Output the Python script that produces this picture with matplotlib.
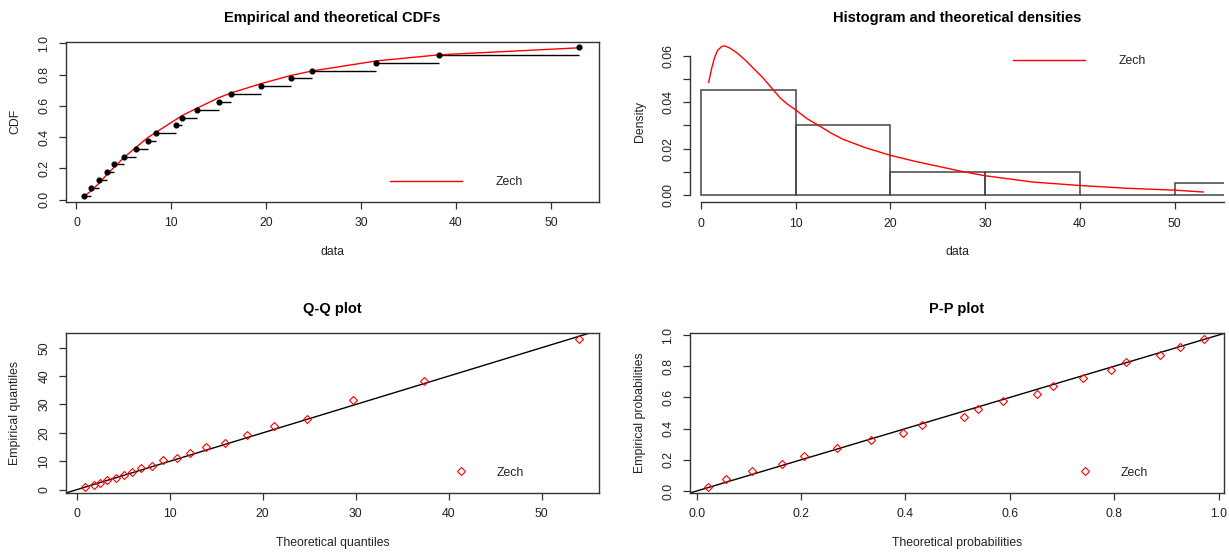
"""Goodness-of-fit panels (CDF, density, Q-Q, P-P) for a Zech fit."""

import matplotlib
matplotlib.use("Agg")
import matplotlib.pyplot as plt
from matplotlib.lines import Line2D

plt.rcParams["font.family"] = ["Liberation Sans", "DejaVu Sans"]

# -- values --
data_sorted = [0.82, 1.55, 2.4, 3.25, 3.95, 5.0, 6.27, 7.5, 8.4, 10.5,
               11.15, 12.75, 15.0, 16.3, 19.4, 22.6, 24.85, 31.6, 38.2, 53.0]
emp_prob = [0.025, 0.075, 0.125, 0.175, 0.225, 0.275, 0.325, 0.375, 0.425, 0.475,
            0.525, 0.575, 0.625, 0.675, 0.725, 0.775, 0.825, 0.875, 0.925, 0.975]
theo_prob = [0.022, 0.056, 0.106, 0.163, 0.206, 0.269, 0.334, 0.396, 0.431, 0.513,
             0.538, 0.586, 0.652, 0.682, 0.741, 0.794, 0.823, 0.887, 0.926, 0.971]
theo_quant = [0.85, 1.83, 2.55, 3.3, 4.25, 5.14, 5.99, 6.96, 8.1, 9.3,
              10.74, 12.2, 13.95, 15.9, 18.3, 21.2, 24.8, 29.7, 37.4, 54.0]
dens_x = [0.84, 1.16, 1.44, 1.75, 2.2, 2.55, 3.1, 3.8, 4.7, 5.5, 6.6, 7.5, 8.4, 9.2,
          10, 11.2, 12.5, 13.7, 15, 17.5, 20, 22.5, 25, 27.5, 30, 35, 40, 45, 50, 53]
dens_y = [0.0485, 0.0546, 0.0589, 0.0621, 0.0639, 0.0642, 0.0632, 0.0613, 0.0581,
          0.0548, 0.0503, 0.0460, 0.0417, 0.0390, 0.0367, 0.0329, 0.0298, 0.0268,
          0.0240, 0.0202, 0.0171, 0.0146, 0.0124, 0.0102, 0.0083, 0.0056, 0.0041,
          0.0029, 0.0021, 0.0013]
hist_breaks = [0, 10, 20, 30, 40, 50, 60]
dist_name = "Zech"

W, H = 1229, 555
INK = "#222222"
FS = 8.8


def panel(left, top, right, bottom):
    return fig.add_axes([left / W, 1 - bottom / H, (right - left) / W, (bottom - top) / H])


def style(ax, title, xlabel, ylabel, xl_y, yl_x, box=True):
    ax.set_title(title, fontsize=10.5, fontweight="bold", pad=14, color="black")
    ax.set_xlabel(xlabel, fontsize=FS, color=INK)
    ax.set_ylabel(ylabel, fontsize=FS, color=INK)
    ax.xaxis.set_label_coords(0.5, xl_y)
    ax.yaxis.set_label_coords(yl_x, 0.5)
    for lab in (ax.xaxis.label, ax.yaxis.label):
        lab.set_ha("center")
        lab.set_va("center")
    ax.tick_params(direction="out", length=4.7, width=0.9, color="#333333",
                   labelsize=FS, labelcolor=INK, pad=6.5)
    ax.tick_params(axis="y", labelrotation=90)
    for t in ax.get_yticklabels():
        t.set_va("center")
    for s in ax.spines.values():
        s.set_color("#333333")
        s.set_linewidth(1.0)
    if not box:
        ax.spines["top"].set_visible(False)
        ax.spines["right"].set_visible(False)


def add_legend(ax, handle, x, y, hlen, tpad):
    ax.legend([handle], [dist_name], loc="center left", bbox_to_anchor=(x, y),
              frameon=False, borderpad=0, borderaxespad=0, handlelength=hlen,
              handletextpad=tpad, fontsize=FS, labelcolor=INK)


fig = plt.figure(figsize=(W / 100, H / 100), dpi=100)

# -- Empirical and theoretical CDFs --
ax1 = panel(66, 41.7, 599, 201.5)
ax1.hlines(emp_prob[:-1], data_sorted[:-1], data_sorted[1:], color="black", lw=1)
ax1.plot(data_sorted, theo_prob, color="red", lw=1)
ax1.plot(data_sorted, emp_prob, "o", color="black", ms=3.4)
ax1.set_xlim(-1.1, 55.07)
ax1.set_ylim(-0.012, 1.01)
ax1.set_xticks([0, 10, 20, 30, 40, 50])
ax1.set_yticks([0, 0.2, 0.4, 0.6, 0.8, 1.0])
ax1.set_yticklabels(["0.0", "0.2", "0.4", "0.6", "0.8", "1.0"])
style(ax1, "Empirical and theoretical CDFs", "data", "CDF", -0.316, -0.0957)
add_legend(ax1, Line2D([], [], color="red", lw=1), 0.608, 0.12, 5.9, 2.75)

# -- Histogram and theoretical densities --
ax2 = panel(690, 41.7, 1224, 202)
ax2.hist(data_sorted, bins=hist_breaks, density=True, fill=False,
         edgecolor="#444444", lw=1.1)
ax2.plot(dens_x, dens_y, color="red", lw=1)
ax2.set_xlim(-1.13, 55.2)
ax2.set_ylim(-0.003, 0.066)
ax2.set_xticks([0, 10, 20, 30, 40, 50])
ax2.set_yticks([0, 0.01, 0.02, 0.03, 0.04, 0.05, 0.06])
ax2.set_yticklabels(["0.00", "", "0.02", "", "0.04", "", "0.06"])
style(ax2, "Histogram and theoretical densities", "data", "Density", -0.312, -0.0936, box=False)
ax2.spines["left"].set_bounds(0, 0.06)
ax2.spines["bottom"].set_bounds(0, 55.2)
add_legend(ax2, Line2D([], [], color="red", lw=1), 0.605, 0.878, 5.9, 2.75)

# -- Q-Q plot --
ax3 = panel(66, 332.7, 599.3, 492.7)
ax3.axline((0, 0), slope=1, color="black", lw=1)
ax3.plot(theo_quant, data_sorted, "D", mfc="none", mec="red", mew=0.8, ms=3.6)
ax3.set_xlim(-1.15, 56.2)
ax3.set_ylim(-1.06, 55.28)
ax3.set_xticks([0, 10, 20, 30, 40, 50])
ax3.set_yticks([0, 10, 20, 30, 40, 50])
style(ax3, "Q-Q plot", "Theoretical quantiles", "Empirical quantiles", -0.314, -0.0957)
add_legend(ax3, Line2D([], [], ls="none", marker="D", mfc="none", mec="red", mew=0.8, ms=3.6),
           0.733, 0.125, 0.7, 2.55)

# -- P-P plot --
ax4 = panel(689.7, 332.7, 1223.7, 492.7)
ax4.axline((0, 0), slope=1, color="black", lw=1)
ax4.plot(theo_prob, emp_prob, "D", mfc="none", mec="red", mew=0.8, ms=3.6)
ax4.set_xlim(-0.0134, 1.0096)
ax4.set_ylim(-0.011, 1.015)
ticks = [0, 0.2, 0.4, 0.6, 0.8, 1.0]
tick_labels = ["0.0", "0.2", "0.4", "0.6", "0.8", "1.0"]
ax4.set_xticks(ticks)
ax4.set_xticklabels(tick_labels)
ax4.set_yticks(ticks)
ax4.set_yticklabels(tick_labels)
style(ax4, "P-P plot", "Theoretical probabilities", "Empirical probabilities", -0.314, -0.0936)
add_legend(ax4, Line2D([], [], ls="none", marker="D", mfc="none", mec="red", mew=0.8, ms=3.6),
           0.733, 0.125, 0.7, 2.55)

fig.savefig("out.png", dpi=100)
plt.close(fig)
